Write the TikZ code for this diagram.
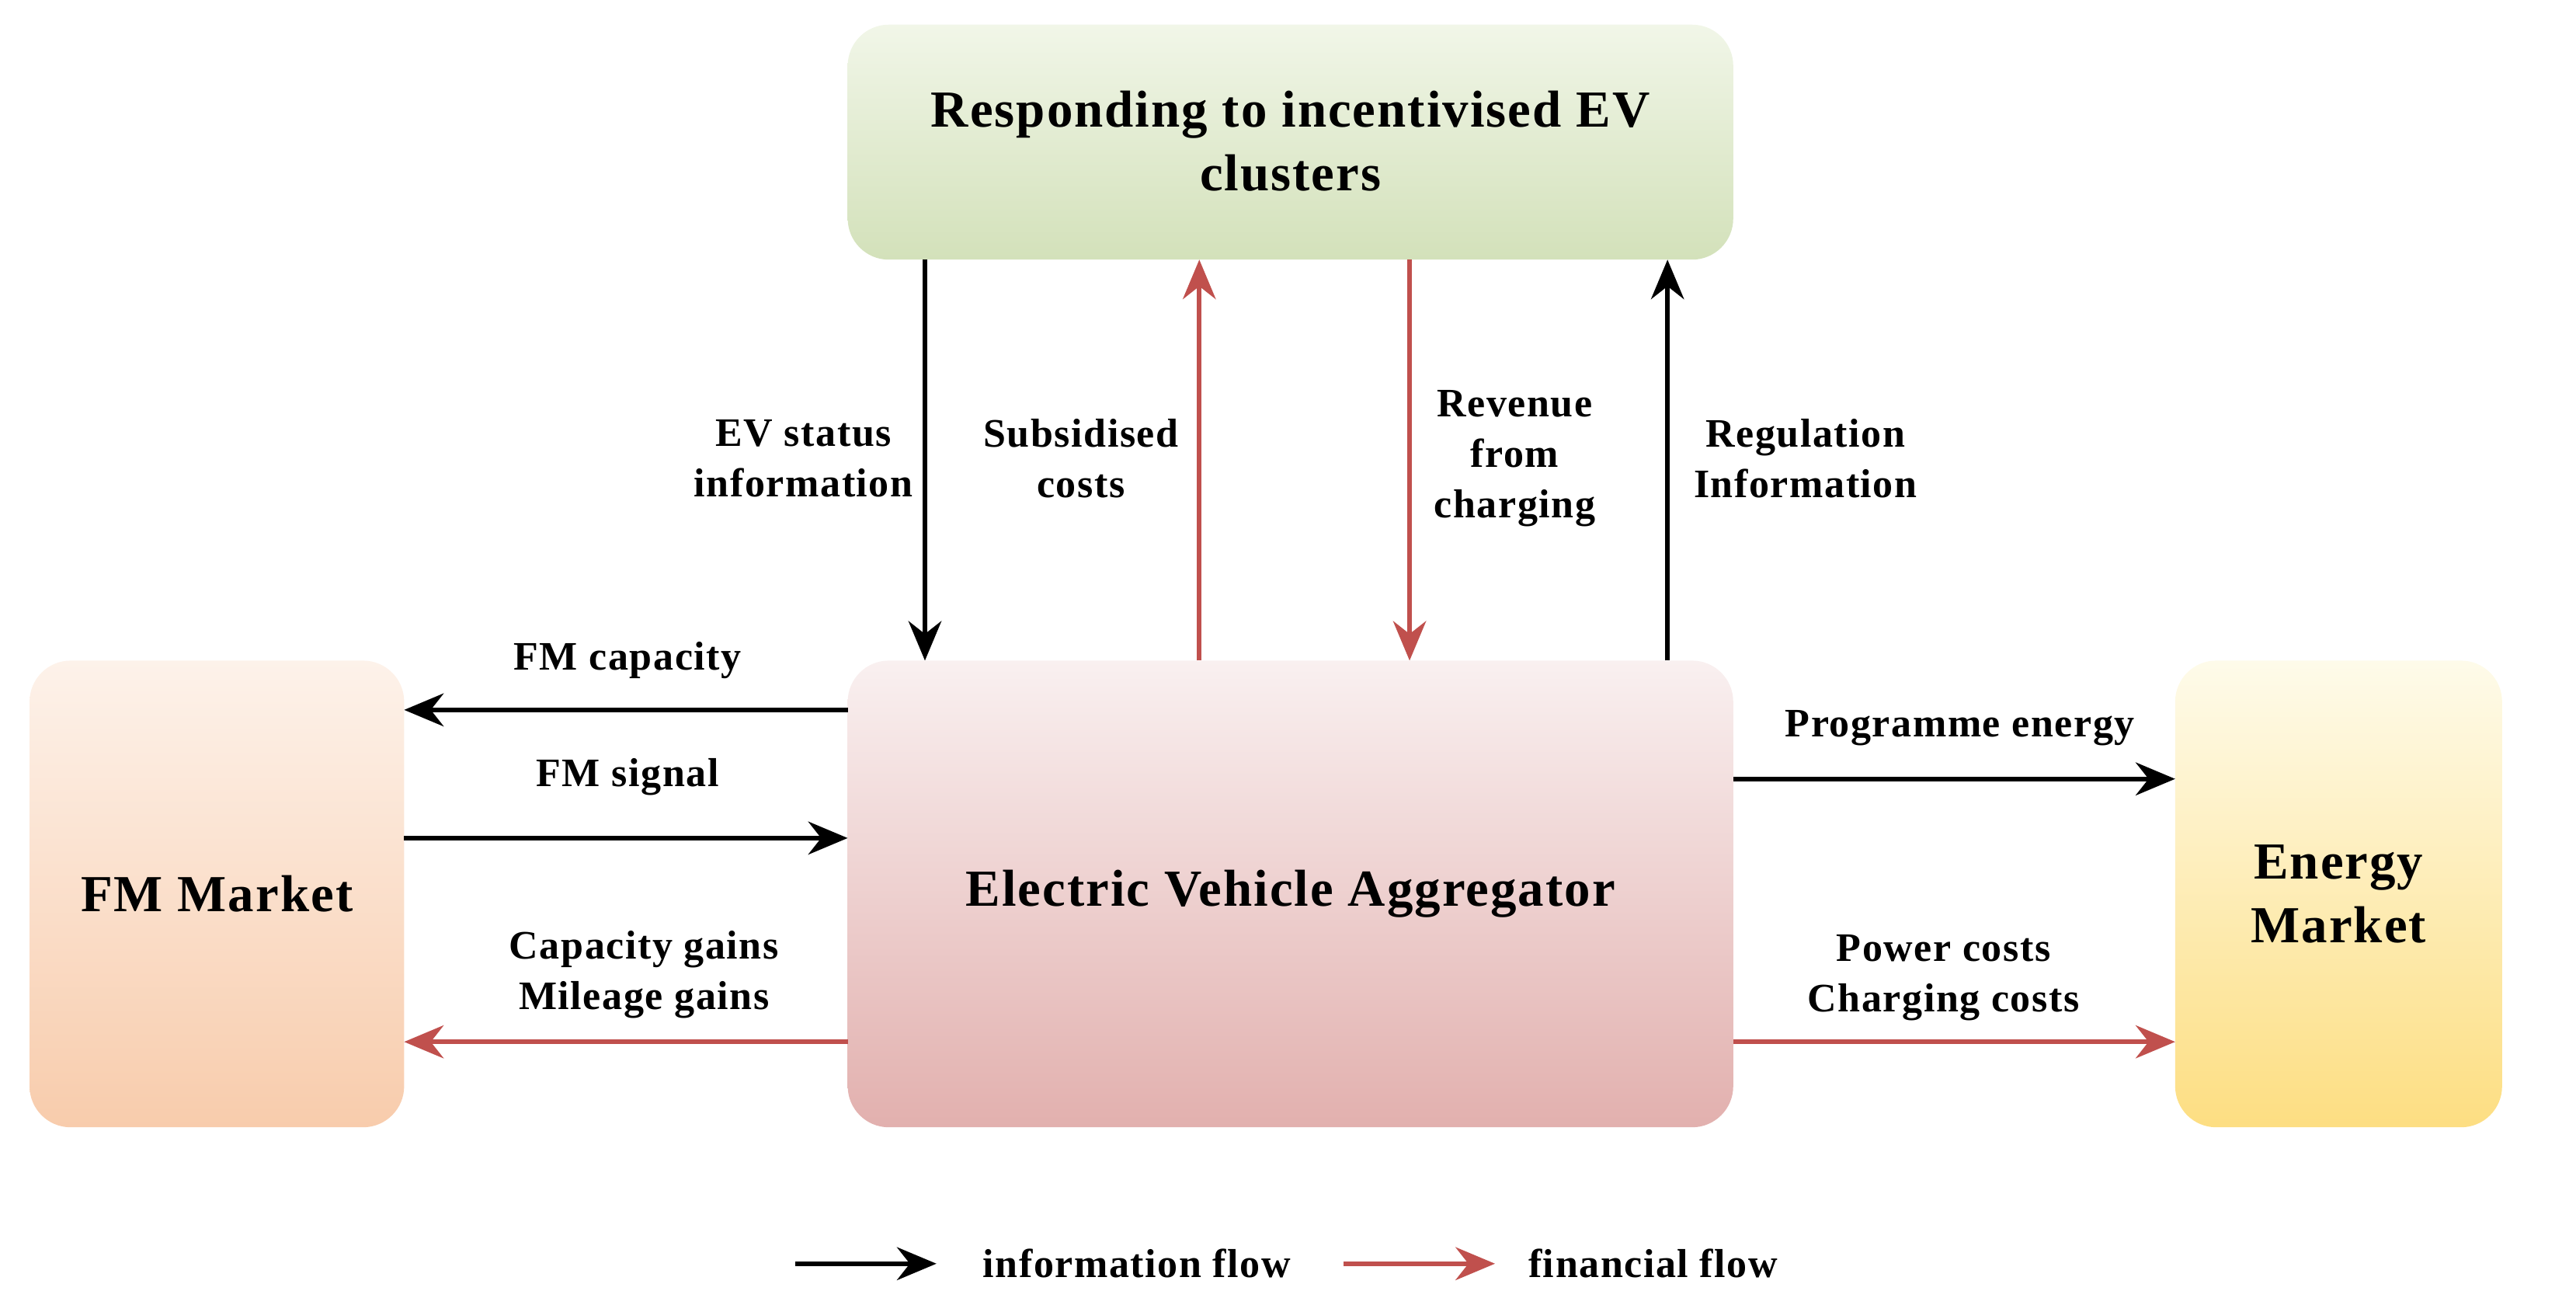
\documentclass[tikz,border=0pt]{standalone}
\usepackage{fontspec}
\setmainfont{Liberation Serif}[LetterSpace=3]
\usetikzlibrary{arrows.meta}
\definecolor{fred}{HTML}{C0504D}
\begin{document}
\begin{tikzpicture}[x=0.02cm,y=-0.02cm,
  lab/.style={align=center,font=\fontsize{14}{17.5}\selectfont\bfseries,inner sep=0pt},
  big/.style={lab,font=\fontsize{18}{22}\selectfont\bfseries},
  arr/.style={line width=1.7pt,-{Stealth[length=0.48cm,width=0.4cm]}},
  info/.style={arr,black},
  fin/.style={arr,fred}]
\useasboundingbox (0,0) rectangle (1568,798);
% boxes
\shade[rounded corners=0.5cm,top color={rgb,255:red,241;green,246;blue,232},bottom color={rgb,255:red,211;green,225;blue,186}] (516,15) rectangle (1055,158);
\node[big] (top) at (785.5,86) {Responding to incentivised EV\\clusters};
\shade[rounded corners=0.5cm,top color={rgb,255:red,253;green,242;blue,234},bottom color={rgb,255:red,248;green,204;blue,172}] (18,402) rectangle (246,686);
\node[big] (fm) at (132,544) {FM Market};
\shade[rounded corners=0.5cm,top color={rgb,255:red,249;green,240;blue,240},middle color={rgb,255:red,228;green,178;blue,176},bottom color={rgb,255:red,226;green,176;blue,174}] (516,402) rectangle (1055,686);
\node[big] (eva) at (785.5,544) {Electric Vehicle Aggregator};
\shade[rounded corners=0.5cm,top color={rgb,255:red,254;green,251;blue,234},bottom color={rgb,255:red,253;green,222;blue,130}] (1324,402) rectangle (1523,686);
\node[big] (em) at (1423.5,544) {Energy\\Market};
% coordinates
\coordinate (t1) at (563,158); \coordinate (b1) at (563,402);
\coordinate (t2) at (730,158); \coordinate (b2) at (730,402);
\coordinate (t3) at (858,158); \coordinate (b3) at (858,402);
\coordinate (t4) at (1015,158); \coordinate (b4) at (1015,402);
\coordinate (l1) at (246,432); \coordinate (r1) at (516,432);
\coordinate (l2) at (246,510); \coordinate (r2) at (516,510);
\coordinate (l3) at (246,634); \coordinate (r3) at (516,634);
\coordinate (e1) at (1055,474); \coordinate (m1) at (1324,474);
\coordinate (e2) at (1055,634); \coordinate (m2) at (1324,634);
% vertical arrows
\draw[info] (t1) -- (b1);
\draw[fin] (b2) -- (t2);
\draw[fin] (t3) -- (b3);
\draw[info] (b4) -- (t4);
\node[lab,anchor=east] (lab1) at (556,279) {EV status\\information};
\node[lab] (lab2) at (658,279) {Subsidised\\costs};
\node[lab] (lab3) at (922,279) {Revenue\\from\\charging};
\node[lab] (lab4) at (1099,279) {Regulation\\Information};
% horizontal arrows
\draw[info] (r1) -- (l1);
\draw[info] (l2) -- (r2);
\draw[fin] (r3) -- (l3);
\draw[info] (e1) -- (m1);
\draw[fin] (e2) -- (m2);
\node[lab] (lab5) at (382,402) {FM capacity};
\node[lab] (lab6) at (382,473) {FM signal};
\node[lab] (lab7) at (392,593) {Capacity gains\\Mileage gains};
\node[lab] (lab8) at (1193,443) {Programme energy};
\node[lab] (lab9) at (1183,595) {Power costs\\Charging costs};
% legend
\coordinate (la) at (484,769); \coordinate (lb) at (570,769);
\coordinate (lc) at (818,769); \coordinate (ld) at (910,769);
\draw[info] (la) -- (lb);
\node[lab,anchor=west] (leg1) at (598,769) {information flow};
\draw[fin] (lc) -- (ld);
\node[lab,anchor=west] (leg2) at (930,769) {financial flow};
\end{tikzpicture}
\end{document}
